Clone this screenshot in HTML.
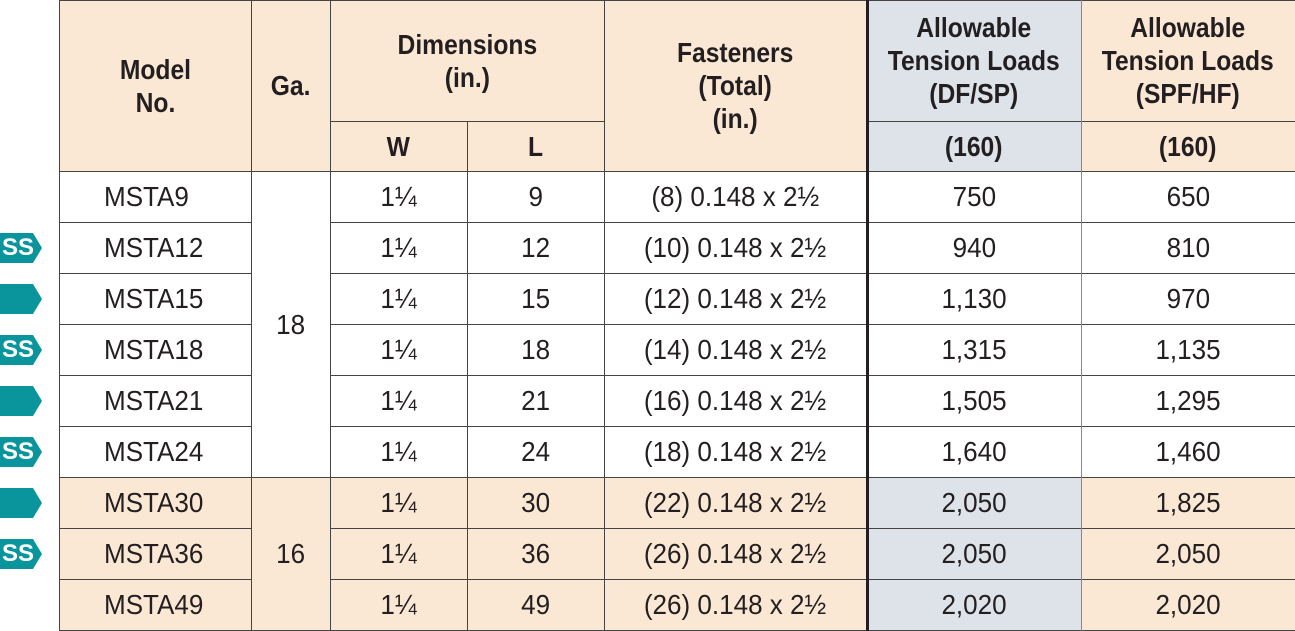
<!DOCTYPE html>
<html><head><style>
body{margin:0;width:1295px;height:631px;background:#fff;position:relative;overflow:hidden;font-family:"Liberation Sans Narrow","Liberation Sans",sans-serif;color:#231f20}
.c{position:absolute;display:flex;align-items:center;justify-content:center;text-align:center;box-sizing:border-box;font-size:28px;line-height:33px}
.c>span{display:inline-block;transform:scaleX(.93);white-space:nowrap}
.h{font-weight:bold;font-size:28px}
.h>span{transform:scaleX(.88)}
.l>span{transform-origin:left center}
.hl{position:absolute;height:1px;background:#444}
.vl{position:absolute;width:1px;background:#444}
.b{position:absolute;left:0;width:42px;height:30px;background:#0a959c;clip-path:polygon(0 0,33px 0,42px 50%,33px 100%,0 100%);color:#fff;font-weight:bold;font-size:24px;line-height:30px;padding-left:2px;box-sizing:border-box}
</style></head><body>
<div style="position:absolute;left:59px;top:0;width:808px;height:171px;background:#fbe8d4"></div>
<div style="position:absolute;left:867px;top:0;width:214px;height:171px;background:#dde3e9"></div>
<div style="position:absolute;left:1081px;top:0;width:214px;height:171px;background:#fbe8d4"></div>
<div style="position:absolute;left:59px;top:477px;width:808px;height:154px;background:#fbe8d4"></div>
<div style="position:absolute;left:867px;top:477px;width:214px;height:154px;background:#dde3e9"></div>
<div style="position:absolute;left:1081px;top:477px;width:214px;height:154px;background:#fbe8d4"></div>
<div style="position:absolute;left:251px;top:171px;width:79px;height:306px;background:#fff"></div>

<div class="hl" style="left:59px;top:0;width:1236px"></div>
<div class="hl" style="left:330px;top:121px;width:274px"></div>
<div class="hl" style="left:867px;top:121px;width:428px"></div>
<div class="hl" style="left:59px;top:171px;width:1236px"></div>
<div class="hl" style="left:59px;top:222px;width:192px"></div><div class="hl" style="left:330px;top:222px;width:965px"></div>
<div class="hl" style="left:59px;top:273px;width:192px"></div><div class="hl" style="left:330px;top:273px;width:965px"></div>
<div class="hl" style="left:59px;top:324px;width:192px"></div><div class="hl" style="left:330px;top:324px;width:965px"></div>
<div class="hl" style="left:59px;top:375px;width:192px"></div><div class="hl" style="left:330px;top:375px;width:965px"></div>
<div class="hl" style="left:59px;top:426px;width:192px"></div><div class="hl" style="left:330px;top:426px;width:965px"></div>
<div class="hl" style="left:59px;top:477px;width:1236px"></div>
<div class="hl" style="left:59px;top:528px;width:192px"></div><div class="hl" style="left:330px;top:528px;width:965px"></div>
<div class="hl" style="left:59px;top:579px;width:192px"></div><div class="hl" style="left:330px;top:579px;width:965px"></div>
<div class="hl" style="left:59px;top:630px;width:1236px"></div>
<div class="vl" style="left:59px;top:0;height:631px"></div>
<div class="vl" style="left:251px;top:0;height:631px"></div>
<div class="vl" style="left:330px;top:0;height:631px"></div>
<div class="vl" style="left:467px;top:121px;height:510px"></div>
<div class="vl" style="left:604px;top:0;height:631px"></div>
<div style="position:absolute;left:866px;top:0;width:3px;height:631px;background:#231f20"></div>
<div class="vl" style="left:1081px;top:0;height:631px;background:#888"></div>

<div class="c h" style="left:59px;top:0;width:192px;height:171px"><span>Model<br>No.</span></div>
<div class="c h" style="left:251px;top:0;width:79px;height:171px"><span>Ga.</span></div>
<div class="c h" style="left:330px;top:0;width:274px;height:121px"><span>Dimensions<br>(in.)</span></div>
<div class="c h" style="left:330px;top:121px;width:137px;height:50px"><span>W</span></div>
<div class="c h" style="left:467px;top:121px;width:137px;height:50px"><span>L</span></div>
<div class="c h" style="left:604px;top:0;width:263px;height:171px"><span>Fasteners<br>(Total)<br>(in.)</span></div>
<div class="c h" style="left:867px;top:0;width:214px;height:121px"><span>Allowable<br>Tension Loads<br>(DF/SP)</span></div>
<div class="c h" style="left:1081px;top:0;width:214px;height:121px"><span>Allowable<br>Tension Loads<br>(SPF/HF)</span></div>
<div class="c h" style="left:867px;top:121px;width:214px;height:50px"><span>(160)</span></div>
<div class="c h" style="left:1081px;top:121px;width:214px;height:50px"><span>(160)</span></div>

<div class="c" style="left:251px;top:171px;width:79px;height:306px"><span>18</span></div>
<div class="c" style="left:251px;top:477px;width:79px;height:153px"><span>16</span></div>

<div id="rows"></div>
<script>
var d=[["MSTA9","9","(8)","750","650",""],["MSTA12","12","(10)","940","810","SS"],["MSTA15","15","(12)","1,130","970","x"],["MSTA18","18","(14)","1,315","1,135","SS"],["MSTA21","21","(16)","1,505","1,295","x"],["MSTA24","24","(18)","1,640","1,460","SS"],["MSTA30","30","(22)","2,050","1,825","x"],["MSTA36","36","(26)","2,050","2,050","SS"],["MSTA49","49","(26)","2,020","2,020",""]];
var h="";d.forEach(function(r,i){var t=171+i*51;
h+='<div class="c l" style="left:59px;top:'+t+'px;width:192px;height:51px;justify-content:flex-start;padding-left:45px"><span>'+r[0]+'</span></div>';
h+='<div class="c" style="left:330px;top:'+t+'px;width:137px;height:51px"><span>1&frac14;</span></div>';
h+='<div class="c" style="left:467px;top:'+t+'px;width:137px;height:51px"><span>'+r[1]+'</span></div>';
h+='<div class="c" style="left:604px;top:'+t+'px;width:263px;height:51px"><span>'+r[2]+' 0.148 x 2&frac12;</span></div>';
h+='<div class="c" style="left:867px;top:'+t+'px;width:214px;height:51px"><span>'+r[3]+'</span></div>';
h+='<div class="c" style="left:1081px;top:'+t+'px;width:214px;height:51px"><span>'+r[4]+'</span></div>';
if(r[5])h+='<div class="b" style="top:'+(t+11)+'px">'+(r[5]=="SS"?"SS":"")+'</div>';});
document.getElementById("rows").innerHTML=h;
</script>
</body></html>
